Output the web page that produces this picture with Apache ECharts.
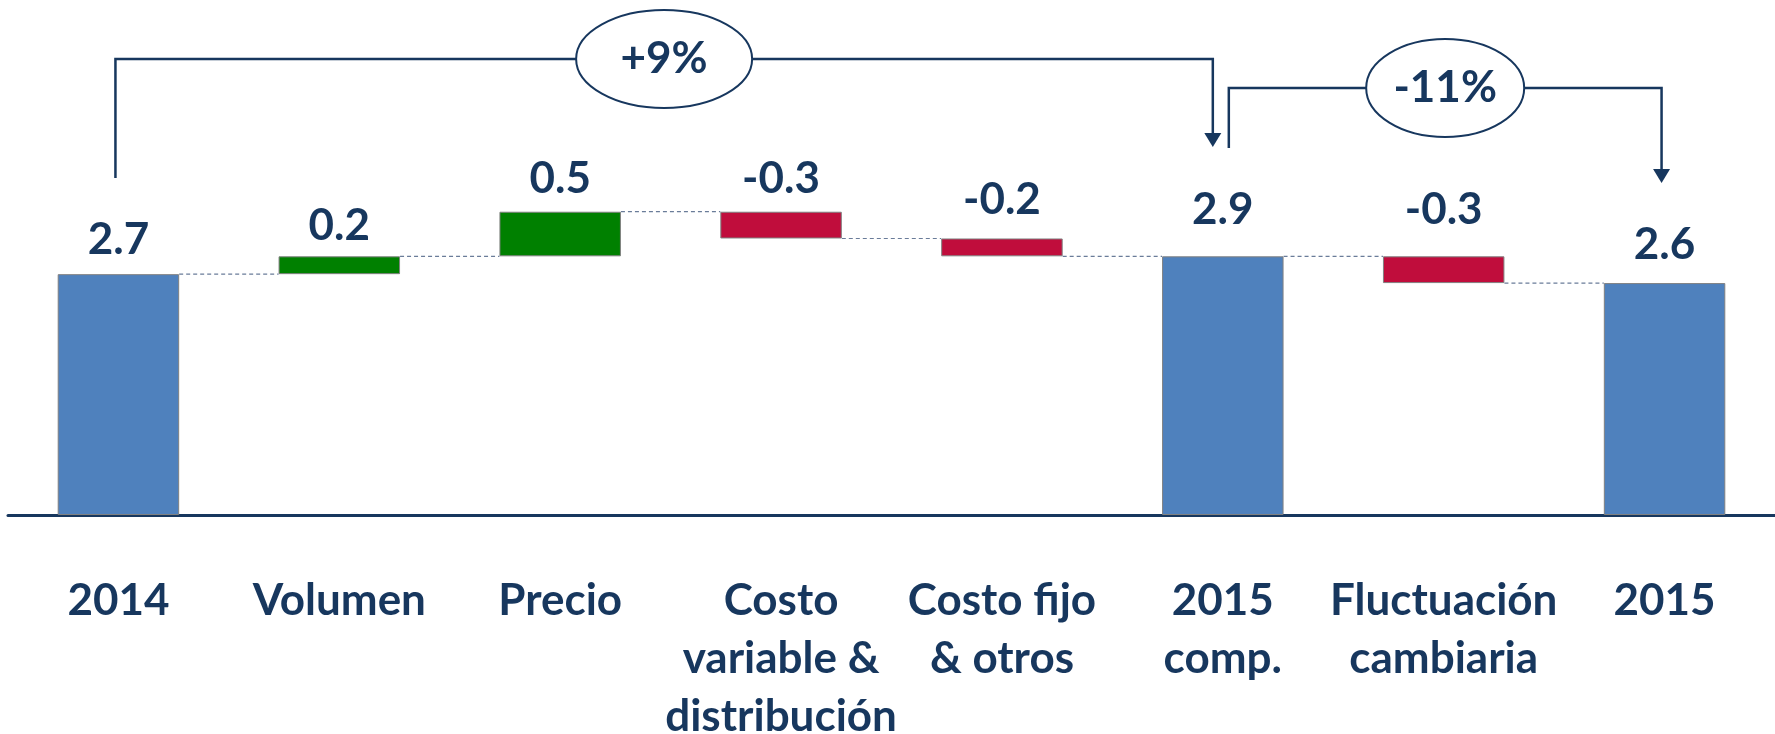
<!DOCTYPE html>
<html>
<head>
<meta charset="utf-8">
<script src="https://cdn.jsdelivr.net/npm/echarts@6/dist/echarts.min.js"></script>
<style>
  html, body { margin: 0; padding: 0; background: #fff; }
  #main { width: 1775px; height: 734px; }
</style>
</head>
<body>
<div id="main"></div>
<script>
const categories = ['2014', 'Volumen', 'Precio', 'Costo\nvariable &\ndistribución', 'Costo fijo\n& otros', '2015\ncomp.', 'Fluctuación\ncambiaria', '2015']
const changes = [2.7, 0.2, 0.5, -0.3, -0.2, 2.9, -0.3, 2.6]
const kinds = ['total', 'delta', 'delta', 'delta', 'delta', 'total', 'delta', 'total']
// brackets drawn over the bars: from category -> to category
const bracketFrom = [0, 5]
const bracketTo = [5, 7]
const bracketText = ['+9%', '-11%']

const navy = '#17375E'
const font = 'Lato'
// gap between value label and bar top (layout only)
const labelGap = [12, 9, 11, 11, 17, 25, 25, 16]

// build the waterfall pieces
let running = 0
const baseVals = []
const barVals = []
const levels = []
changes.forEach((v, i) => {
  if (kinds[i] === 'total') {
    baseVals.push(0)
    barVals.push(v)
    running = v
  } else {
    const end = +(running + v).toFixed(2)
    baseVals.push(Math.min(running, end))
    barVals.push(Math.abs(v))
    running = end
  }
  levels.push(running)
})

const barData = barVals.map((v, i) => {
  let color = '#4F81BD'
  if (kinds[i] === 'delta') color = changes[i] > 0 ? '#008000' : '#C00D3C'
  return {
    value: v,
    itemStyle: { color: color },
    label: { distance: labelGap[i] }
  }
})

// connectors between bars, at the running level
const connData = levels.slice(0, -1).map((lv, i) => [i, lv])

const chart = echarts.init(document.getElementById('main'))
const option = {
  animation: false,
  backgroundColor: '#fff',
  grid: { left: 8, right: 0, top: 69, bottom: 219, outerBoundsMode: 'none', containLabel: false },
  xAxis: {
    type: 'category',
    data: categories,
    axisTick: { show: false },
    axisLine: { lineStyle: { color: navy, width: 3 } },
    axisLabel: {
      interval: 0,
      margin: 57,
      color: navy,
      fontFamily: font,
      fontWeight: 'bold',
      fontSize: 44,
      lineHeight: 58,
      align: 'center'
    }
  },
  yAxis: { type: 'value', min: 0, max: 5, show: false },
  series: [
    {
      name: 'base',
      type: 'bar',
      stack: 'wf',
      barWidth: '55%',
      itemStyle: { color: 'transparent' },
      emphasis: { disabled: true },
      data: baseVals
    },
    {
      name: 'valor',
      type: 'bar',
      stack: 'wf',
      barWidth: '55%',
      itemStyle: { borderColor: '#808080', borderWidth: 1 },
      label: {
        show: true,
        position: 'top',
        color: navy,
        fontFamily: font,
        fontWeight: 'bold',
        fontSize: 44,
        lineHeight: 44,
        formatter: p => changes[p.dataIndex].toFixed(1)
      },
      data: barData
    },
    {
      name: 'conectores',
      type: 'custom',
      z: 5,
      silent: true,
      renderItem: (params, api) => {
        const p = api.coord([api.value(0), api.value(1)])
        const w = api.size([1, 0])[0]
        const half = w * 0.55 / 2
        return {
          type: 'line',
          shape: { x1: p[0] + half, y1: p[1], x2: p[0] + w - half, y2: p[1] },
          style: { stroke: '#6A7C99', lineWidth: 1.2, lineDash: [4, 3] }
        }
      },
      data: connData
    }
  ]
}
chart.setOption(option)

// bracket annotations (+9%, -11%)
const px = i => chart.convertToPixel({ gridIndex: 0 }, [i, 0])[0]
const tops = [59, 88]
const starts = [178, 148]
const tips = [147, 183]
const shiftFrom = [-3, 6]
const shiftTo = [-10, -3]
const radX = [88, 79]
const graphics = []
bracketFrom.forEach((f, k) => {
  const x0 = px(f) + shiftFrom[k]
  const x1 = px(bracketTo[k]) + shiftTo[k]
  const yT = tops[k]
  graphics.push({
    type: 'polyline',
    z: 10,
    shape: { points: [[x0, starts[k]], [x0, yT], [x1, yT], [x1, tips[k] - 12]] },
    style: { stroke: navy, lineWidth: 2.5, fill: null }
  })
  graphics.push({
    type: 'polygon',
    z: 10,
    shape: { points: [[x1 - 8.5, tips[k] - 14], [x1 + 8.5, tips[k] - 14], [x1, tips[k]]] },
    style: { fill: navy }
  })
  const cx = (x0 + x1) / 2
  graphics.push({
    type: 'ellipse',
    z: 11,
    shape: { cx: cx, cy: yT, rx: radX[k], ry: 49 },
    style: { fill: '#fff', stroke: navy, lineWidth: 2 }
  })
  graphics.push({
    type: 'text',
    z: 12,
    x: cx,
    y: yT,
    style: {
      text: bracketText[k],
      fill: navy,
      font: 'bold 44px Lato',
      align: 'center',
      verticalAlign: 'middle'
    }
  })
})
chart.setOption({ graphic: graphics })
</script>
</body>
</html>
